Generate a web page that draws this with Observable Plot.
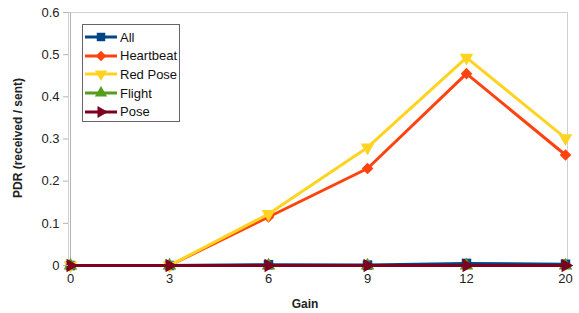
<!DOCTYPE html>
<html><head><meta charset="utf-8">
<script src="https://cdn.jsdelivr.net/npm/d3@7"></script>
<script src="https://cdn.jsdelivr.net/npm/@observablehq/plot@0.6"></script>
<style>
body{margin:0;background:#fff;font-family:"Liberation Sans",Arial,sans-serif;}
#wrap{position:relative;width:579px;height:313px;}
#legend{position:absolute;left:82px;top:24px;width:96px;height:96px;border:1px solid #6e5f6e;background:#fff;}
.item{position:absolute;left:2px;height:18px;display:flex;align-items:center;font-size:13px;color:#111;}
.item svg{margin-right:3px;}
</style></head>
<body><div id="wrap"></div>
<script>
const gains = ["0","3","6","9","12","20"];
const seriesNames = ["All","Heartbeat","Red Pose","Flight","Pose"];
const allVals = [0,0,0.002,0.001,0.005,0.003];
const heartbeatVals = [0,0,0.115,0.23,0.455,0.262];
const redPoseVals = [0,0,0.122,0.28,0.493,0.302];
const flightVals = [0,0,0,0,0,0];
const poseVals = [0,0,0,0,0,0];
const yTicks = [0,0.1,0.2,0.3,0.4,0.5,0.6];

const colors = ["#004586","#ff420e","#ffd320","#579d1c","#7e0021"];
const valsList = [allVals,heartbeatVals,redPoseVals,flightVals,poseVals];

function tri(angle){
  return {draw(ctx,size){
    const r = Math.sqrt(size)*0.75;
    for(let i=0;i<3;i++){
      const a = angle + i*2*Math.PI/3;
      const x = r*Math.cos(a), y = r*Math.sin(a);
      if(i===0) ctx.moveTo(x,y); else ctx.lineTo(x,y);
    }
    ctx.closePath();
  }};
}
const sq = {draw(ctx,size){const s=Math.sqrt(size)/2;ctx.rect(-s,-s,2*s,2*s);}};
const dia = {draw(ctx,size){const s=Math.sqrt(size)*0.65;ctx.moveTo(0,-s);ctx.lineTo(s,0);ctx.lineTo(0,s);ctx.lineTo(-s,0);ctx.closePath();}};
const symbols = [sq, dia, tri(Math.PI/2), tri(-Math.PI/2), tri(0)];
const sizes = [90,80,110,110,110];

const data = [];
seriesNames.forEach((s,i)=>gains.forEach((g,j)=>data.push({series:s,gain:g,value:valsList[i][j],idx:i})));

const marks = [
  Plot.frame({stroke:"#d0d0d0"}),
  Plot.ruleX([gains[0]],{stroke:"#b3b3b3"})
];
seriesNames.forEach((s,i)=>{
  const d = data.filter(r=>r.series===s);
  marks.push(Plot.line(d,{x:"gain",y:"value",stroke:colors[i],strokeWidth:3}));
  marks.push(Plot.dot(d,{x:"gain",y:"value",fill:colors[i],stroke:"none",symbol:()=>symbols[i],r:Math.sqrt(sizes[i]/Math.PI)}));
});

const chart = Plot.plot({
  width:579,height:313,
  marginLeft:68,marginRight:12,marginTop:12,marginBottom:48,
  style:{fontFamily:"Liberation Sans, Arial, sans-serif",fontSize:"13px",color:"#222",background:"#fff"},
  x:{type:"point",domain:gains,padding:0,label:null,tickSize:0,tickPadding:8},
  y:{domain:[0,0.6],ticks:yTicks,tickFormat:d=>String(d),label:null,tickSize:5,tickPadding:4},
  symbol:{type:"identity"},
  marks:[
    ...marks,
    Plot.axisY({ticks:yTicks,tickFormat:d=>String(d),tickSize:5,tickPadding:4,stroke:"#b3b3b3",label:null}),
    Plot.axisX({domain:gains,tickSize:0,tickPadding:8,label:null})
  ]
});
const svg = d3.select(chart);
svg.append("text").attr("x",305).attr("y",308).attr("text-anchor","middle").attr("font-weight","bold").attr("font-size","12px").attr("fill","#222").text("Gain");
svg.append("text").attr("transform","translate(22,138) rotate(-90)").attr("text-anchor","middle").attr("font-weight","bold").attr("font-size","12px").attr("fill","#222").text("PDR (received / sent)");

const wrap = document.getElementById("wrap");
wrap.appendChild(chart);
const lg = document.createElement("div");
lg.id="legend";
wrap.appendChild(lg);
seriesNames.forEach((s,i)=>{
  const it = document.createElement("div");
  it.className="item";
  it.style.top = (3+i*18.7)+"px";
  const ns="http://www.w3.org/2000/svg";
  const sv = document.createElementNS(ns,"svg");
  sv.setAttribute("width",32);sv.setAttribute("height",14);
  const ln = document.createElementNS(ns,"line");
  ln.setAttribute("x1",0);ln.setAttribute("x2",32);ln.setAttribute("y1",7);ln.setAttribute("y2",7);
  ln.setAttribute("stroke",colors[i]);ln.setAttribute("stroke-width",3);
  sv.appendChild(ln);
  const p = document.createElementNS(ns,"path");
  const path = d3.path(); symbols[i].draw(path, sizes[i]*0.8);
  p.setAttribute("d",path.toString());p.setAttribute("fill",colors[i]);
  p.setAttribute("transform","translate(16,7)");
  sv.appendChild(p);
  it.appendChild(sv);
  const t=document.createElement("span");t.textContent=s;it.appendChild(t);
  lg.appendChild(it);
});
</script></body></html>
